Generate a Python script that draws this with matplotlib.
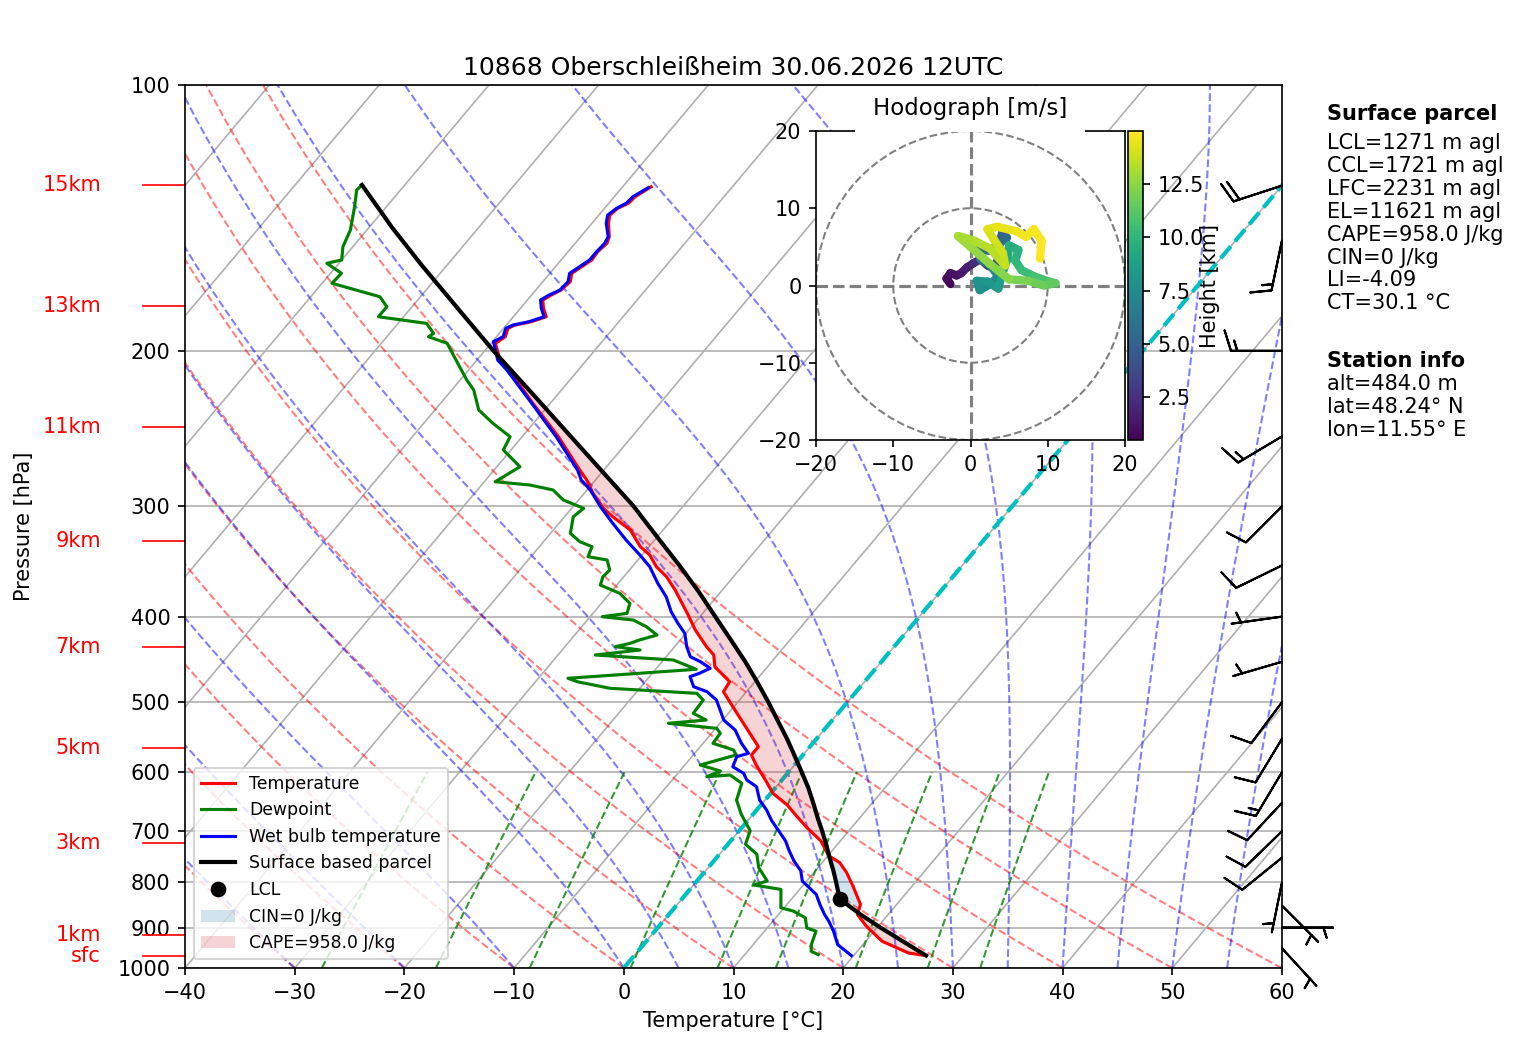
import numpy as np
import matplotlib
matplotlib.use("Agg")
import matplotlib.pyplot as plt
from matplotlib import transforms
from matplotlib.collections import LineCollection
from matplotlib.colors import Normalize
from matplotlib.patches import Circle, Rectangle

SKEW = 67.7  # degC shift of the isotherms per decade of pressure

# ---- sounding (hPa, degC) ----
temp_p = [968.2, 961.6, 932.7, 896.7, 869.8, 847.2, 807.5, 779.8, 759.7, 746.5, 717.7, 693.2,
          674.0, 653.7, 634.1, 612.5, 589.0, 573.8, 561.5, 542.3, 523.8, 505.9, 486.5, 474.0,
          455.8, 442.1, 432.6, 414.2, 398.3, 373.2, 360.5, 351.2, 340.6, 333.3, 319.1, 308.3,
          301.6, 290.0, 280.1, 272.9, 250.2, 229.3, 210.3, 204.9, 196.1, 192.8, 188.6, 187.0,
          185.4, 183.0, 179.0, 175.2, 172.9, 170.7, 167.0, 163.4, 160.6, 157.8, 154.5, 151.1,
          148.5, 143.4, 140.4, 137.9, 136.1, 133.8, 130.4]
temp_t = [26.6, 24.8, 21.5, 18.9, 17.2, 16.7, 14.6, 13.0, 11.6, 10.1, 8.2, 5.9,
          4.2, 2.4, 0.2, -1.5, -3.5, -4.7, -4.7, -6.5, -8.3, -10.1, -12.1, -12.3,
          -14.8, -15.8, -17.1, -19.4, -21.2, -24.3, -26.1, -27.8, -29.3, -30.8, -33.0, -35.6,
          -37.1, -39.2, -40.8, -42.2, -46.7, -51.6, -56.3, -57.9, -59.6, -59.2, -59.6, -59.2,
          -58.0, -57.0, -57.9, -58.6, -58.2, -57.7, -57.5, -58.0, -57.6, -57.2, -57.3, -57.1,
          -57.4, -58.5, -59.0, -58.8, -58.2, -58.1, -57.4]

dewp_p = [965.7, 957.4, 940.8, 908.5, 900.7, 877.3, 862.1, 854.7, 814.7, 805.4, 797.0, 769.6,
          743.2, 724.1, 699.2, 669.4, 645.3, 617.8, 604.6, 607.2, 598.3, 589.0, 573.8, 566.4,
          556.6, 542.3, 535.3, 528.3, 523.8, 514.7, 497.2, 488.6, 482.2, 474.0, 469.8, 458.9,
          447.9, 442.1, 436.4, 432.6, 428.8, 425.0, 419.7, 410.7, 403.6, 400.1, 396.6, 386.4,
          376.4, 368.4, 360.5, 354.2, 345.1, 342.1, 333.3, 329.0, 321.9, 308.3, 301.6, 295.1,
          287.5, 283.8, 281.4, 270.6, 259.0, 250.2, 241.6, 233.4, 221.5, 215.8, 204.9, 196.1,
          192.8, 191.1, 186.2, 183.0, 178.3, 173.7, 169.9, 167.7, 163.4, 159.2, 157.8, 152.5,
          146.0, 137.4, 131.5, 129.8]
dewp_t = [16.7, 15.8, 15.3, 14.7, 13.6, 12.7, 11.1, 9.7, 8.3, 5.5, 6.4, 4.6,
          3.4, 1.6, 1.0, -1.1, -2.6, -3.4, -5.1, -7.1, -6.3, -8.6, -6.1, -6.7,
          -9.1, -9.2, -9.9, -14.7, -11.5, -13.2, -13.3, -14.4, -22.7, -26.2, -27.3, -16.3,
          -19.1, -26.6, -22.9, -25.4, -24.3, -23.7, -22.5, -24.1, -25.8, -28.9, -26.9, -27.4,
          -29.1, -31.5, -31.9, -31.8, -32.8, -34.8, -35.2, -36.7, -38.2, -39.2, -38.9, -41.4,
          -43.1, -45.6, -49.0, -47.9, -50.7, -51.1, -53.7, -56.0, -58.0, -59.4, -61.9, -64.0,
          -66.2, -66.0, -67.4, -72.3, -72.3, -73.7, -77.1, -79.1, -79.0, -81.1, -80.0, -80.9,
          -81.5, -82.9, -84.0, -83.9]

wetb_p = [968.2, 940.8, 908.5, 885.1, 869.8, 847.2, 825.4, 797.0, 776.5, 756.3, 736.8, 717.9,
          699.2, 681.2, 662.3, 645.3, 623.3, 612.5, 601.9, 591.6, 576.4, 571.3, 556.6, 537.6,
          523.8, 510.3, 497.2, 486.5, 480.2, 467.8, 463.7, 457.7, 449.9, 444.1, 432.6, 417.8,
          407.0, 394.9, 379.8, 366.7, 351.2, 340.6, 327.6, 313.6, 300.3, 287.5, 280.1, 272.9,
          250.2, 229.3, 210.3, 204.9, 195.3, 192.8, 188.6, 187.0, 185.4, 183.0, 179.0, 175.2,
          172.9, 170.7, 167.0, 163.4, 160.6, 157.8, 154.5, 151.1, 148.5, 143.4, 140.4, 137.9,
          136.1, 133.8, 130.7]
wetb_t = [19.8, 17.7, 16.3, 15.1, 14.2, 13.0, 11.9, 9.6, 8.7, 7.3, 6.1, 5.0,
          3.6, 2.2, 0.9, -0.5, -1.8, -3.2, -4.0, -5.5, -5.9, -5.1, -6.5, -8.1,
          -9.9, -11.0, -12.1, -13.6, -15.2, -16.3, -15.7, -15.1, -16.5, -17.8, -18.9, -20.1,
          -21.5, -23.0, -24.6, -26.4, -28.4, -30.2, -32.6, -35.1, -37.5, -39.7, -41.3, -42.4,
          -46.9, -51.7, -56.5, -58.1, -59.9, -59.4, -59.8, -59.4, -58.2, -57.2, -58.1, -58.8,
          -58.4, -57.8, -57.7, -58.2, -57.8, -57.4, -57.4, -57.3, -57.5, -58.7, -59.2, -58.9,
          -58.4, -58.3, -57.6]

parcel_p = [968.2, 935, 900, 870, 835.6, 800, 775, 750, 725, 700, 675, 650, 625, 600, 575,
            550, 525, 500, 475, 450, 425, 400, 375, 350, 325, 300, 275, 250, 225, 200,
            180, 160, 145, 129.8]
parcel_t = [26.6, 23.6, 20.3, 17.5, 14.4, 12.8, 11.6, 10.3, 9.0, 7.6, 6.1, 4.6, 3.0, 1.2, -0.7,
            -2.7, -4.9, -7.2, -9.7, -12.4, -15.4, -18.6, -22.0, -25.8, -30.0, -34.5, -39.8,
            -45.6, -52.0, -59.2, -65.4, -72.3, -77.9, -83.9]
lcl_p, lcl_t = 835.6, 14.4
lfc_p = 745.0

# wind barbs (knots)
barb_p = [950, 900, 850, 800, 750, 700, 650, 600, 550, 500, 450, 400, 350, 300, 250, 200, 150, 130]
barb_u = [-3.4, -5.0, -3.5, 1.0, 7.8, 7.2, 6.8, 7.7, 5.2, 6.0, 4.8, 5.0, 9.0, 7.1, 12.9, 15.0, 3.1, 19.0]
barb_v = [3.7, 0.0, 3.5, 4.9, 6.3, 7.0, 7.3, 12.9, 8.6, 8.0, 1.4, 0.7, 4.4, 7.1, 7.7, 0.0, 14.7, 6.2]

# hodograph (km MSL, m/s)
hodo_h = [0.48, 0.7, 0.9, 1.1, 1.3, 1.6, 2.0, 2.4, 2.8, 3.2, 3.6, 4.0, 4.4, 4.8, 5.2, 5.6,
          6.0, 6.3, 6.6, 7.0, 7.3, 7.6, 7.9, 8.1, 8.4, 8.7, 9.0, 9.3, 9.6, 9.9, 10.2, 10.6,
          11.0, 11.3, 11.6, 11.9, 12.2, 12.5, 12.8, 13.0, 13.2, 13.4, 13.6, 13.8, 14.0, 14.2,
          14.4, 14.6, 14.7, 14.8, 14.9, 15.0]
hodo_u = [-2.6, -3.1, -2.6, -1.8, -1.2, -0.5, 0.4, 1.3, 2.2, 3.0, 3.5, 3.7, 3.8, 4.1, 4.7, 2.5,
          1.0, 1.3, 2.6, 3.6, 2.6, 1.2, 0.8, 2.2, 3.6, 4.0, 4.8, 5.0, 6.2, 5.8, 6.6, 8.2,
          10.2, 11.0, 9.5, 7.5, 5.0, 2.5, 0.0, -1.6, 0.5, 2.5, 4.5, 4.2, 3.0, 2.2,
          3.5, 6.0, 7.2, 8.2, 9.2, 9.0]
hodo_v = [0.2, 0.9, 1.6, 1.3, 1.6, 2.3, 2.9, 3.4, 2.6, 2.2, 3.2, 4.6, 5.8, 6.8, 6.2, 4.5,
          4.6, 3.4, 2.6, 1.2, 0.2, -0.6, 0.6, 0.5, -0.4, 1.2, 3.5, 5.2, 4.6, 3.2, 2.0, 1.2,
          0.5, 0.3, 0.0, 0.6, 0.8, 2.8, 5.0, 6.4, 5.8, 4.8, 2.6, 4.2, 6.0, 7.3,
          7.6, 7.0, 6.3, 7.3, 5.8, 3.5]

hgt_labels = ['15km', '13km', '11km', '9km', '7km', '5km', '3km', '1km', 'sfc']
hgt_label_p = [129.8, 177.9, 244.0, 328.3, 433.2, 563.2, 720.9, 916.4, 969.0]

p_ticks = [100, 200, 300, 400, 500, 600, 700, 800, 900, 1000]
t_ticks = [-40, -30, -20, -10, 0, 10, 20, 30, 40, 50, 60]
mix_ratios = [0.0004, 0.001, 0.002, 0.004, 0.007, 0.01, 0.016, 0.024, 0.032]

title = '10868 Oberschleißheim 30.06.2026 12UTC'
parcel_info = ['LCL=1271 m agl', 'CCL=1721 m agl', 'LFC=2231 m agl', 'EL=11621 m agl',
               'CAPE=958.0 J/kg', 'CIN=0 J/kg', 'LI=-4.09', 'CT=30.1 °C']
station_info = ['alt=484.0 m', 'lat=48.24° N', 'lon=11.55° E']


def skx(t, p):
    return np.asarray(t, float) + SKEW * np.log10(1000.0 / np.asarray(p, float))


def moist_rate(T, p):
    es = 6.112 * np.exp(17.67 * (T - 273.15) / (T - 29.65))
    rs = 0.622 * es / (p - es)
    num = 287.04 * T + 2.501e6 * rs
    den = 1005.7 + (2.501e6 ** 2) * rs * 0.622 / (287.04 * T ** 2)
    return num / den / p


def moist_adiabats(t0, p):
    T = np.asarray(t0, float) + 273.15
    out = [T.copy()]
    for i in range(len(p) - 1):
        dp = p[i + 1] - p[i]
        k1 = moist_rate(T, p[i])
        k2 = moist_rate(T + 0.5 * dp * k1, p[i] + 0.5 * dp)
        k3 = moist_rate(T + 0.5 * dp * k2, p[i] + 0.5 * dp)
        k4 = moist_rate(T + dp * k3, p[i + 1])
        T = T + dp * (k1 + 2 * k2 + 2 * k3 + k4) / 6.0
        out.append(T.copy())
    return np.array(out) - 273.15


W, H = 1517, 1054
fig = plt.figure(figsize=(W / 150, H / 150), dpi=150)
ax = fig.add_axes([185 / W, 86 / H, 1097 / W, 883 / H])
ax.set_yscale('log')
ax.set_ylim(1000, 100)
ax.set_xlim(-40, 60)
ax.set_yticks(p_ticks)
ax.set_yticklabels([str(p) for p in p_ticks])
ax.yaxis.set_minor_locator(matplotlib.ticker.NullLocator())
ax.set_xticks(t_ticks)

# background: isobars, isotherms, adiabats, mixing lines
for p in p_ticks:
    ax.axhline(p, color='#b0b0b0', lw=0.8, zorder=1)
for t0 in range(-120, 61, 10):
    ax.plot(skx([t0, t0], [1000, 100]), [1000, 100], color='#b0b0b0', lw=0.8, zorder=1)

p_bg = np.linspace(1000, 100, 91)
for t0 in range(-40, 61, 10):
    tt = (t0 + 273.15) * (p_bg / 1000.0) ** 0.2857 - 273.15
    ax.plot(skx(tt, p_bg), p_bg, color='r', ls='--', lw=1, alpha=0.5, zorder=1)

t0_moist = np.concatenate((np.arange(-40, 0, 10), np.arange(0, 61, 5)))
tm = moist_adiabats(t0_moist, p_bg)
for j in range(tm.shape[1]):
    ax.plot(skx(tm[:, j], p_bg), p_bg, color='b', ls='--', lw=1, alpha=0.5, zorder=1)

p_mix = np.linspace(1000, 600, 30)
for w in mix_ratios:
    e = p_mix * w / (0.622 + w)
    le = np.log(e / 6.112)
    td = 243.5 * le / (17.67 - le)
    ax.plot(skx(td, p_mix), p_mix, color='g', ls='--', lw=1, alpha=0.8, zorder=1)

ax.plot(skx([0, 0], [1000, 100]), [1000, 100], color='c', ls='--', lw=2, zorder=1.5)

# CAPE / CIN shading
tp = np.array(temp_p)
tt = np.array(temp_t)
par_on_t = np.interp(np.log(tp[::-1]), np.log(np.array(parcel_p)[::-1]),
                     np.array(parcel_t)[::-1])[::-1]
cape = ax.fill_betweenx(tp, skx(tt, tp), skx(par_on_t, tp), where=par_on_t > tt,
                        interpolate=True, facecolor='tab:red', alpha=0.2, lw=0, zorder=2)
cin = ax.fill_betweenx(tp, skx(tt, tp), skx(par_on_t, tp),
                       where=(par_on_t < tt) & (tp > lfc_p),
                       interpolate=True, facecolor='tab:blue', alpha=0.2, lw=0, zorder=2)

l_t, = ax.plot(skx(temp_t, temp_p), temp_p, color='r', lw=1.5, zorder=4)
l_d, = ax.plot(skx(dewp_t, dewp_p), dewp_p, color='g', lw=1.5, zorder=4)
l_w, = ax.plot(skx(wetb_t, wetb_p), wetb_p, color='b', lw=1.5, zorder=4)
l_p, = ax.plot(skx(parcel_t, parcel_p), parcel_p, color='k', lw=2, zorder=5)
l_l, = ax.plot(skx(lcl_t, lcl_p), lcl_p, 'ko', ms=6.5, ls='none', zorder=6)

ax.legend([l_t, l_d, l_w, l_p, l_l, cin, cape],
          ['Temperature', 'Dewpoint', 'Wet bulb temperature', 'Surface based parcel', 'LCL',
           'CIN=0 J/kg', 'CAPE=958.0 J/kg'],
          loc='lower left', fontsize=8.3)

# wind barbs on the right edge
trans = transforms.blended_transform_factory(ax.transAxes, ax.transData)
ax.barbs(np.ones(len(barb_p)), barb_p, barb_u, barb_v, transform=trans,
         clip_on=False, length=7, zorder=7)

# height labels on the left
for name, p in zip(hgt_labels, hgt_label_p):
    ax.plot([-0.0383, 0], [p, p], color='r', lw=0.8, transform=trans, clip_on=False)
    ax.text(-0.0766, p, name, color='r', ha='right', va='center', transform=trans,
            fontsize=10)

ax.set_title(title, fontsize=12, pad=5)
ax.set_xlabel('Temperature [°C]')
ax.set_ylabel('Pressure [hPa]')
ax.yaxis.set_label_coords(-0.1376, 0.5)

# hodograph inset
axh = fig.add_axes([816 / W, 614 / H, 309 / W, 309 / H])
axh.set_xlim(-20, 20)
axh.set_ylim(-20, 20)
axh.set_xticks([-20, -10, 0, 10, 20])
axh.set_yticks([-20, -10, 0, 10, 20])
for r in (10, 20):
    axh.add_patch(Circle((0, 0), r, fill=False, color='grey', ls='--', lw=1))
axh.axhline(0, color='grey', ls='--', lw=1.5)
axh.axvline(0, color='grey', ls='--', lw=1.5)
pts = np.column_stack([hodo_u, hodo_v])
segs = np.stack([pts[:-1], pts[1:]], axis=1)
hh = np.array(hodo_h)
lc = LineCollection(segs, cmap='viridis', norm=Normalize(hh.min(), hh.max()),
                    linewidths=4, capstyle='round')
lc.set_array((hh[:-1] + hh[1:]) / 2)
axh.add_collection(lc)
# white backing behind the hodograph title (hides the grid and part of the top spine)
axh.add_patch(Rectangle((855 / W, 1 - 132 / H), 230 / W, 45.5 / H, transform=fig.transFigure,
                        facecolor='white', edgecolor='none', clip_on=False, zorder=2.6))
axh.set_title('Hodograph [m/s]', fontsize=11, pad=7.5)

cax = fig.add_axes([1128 / W, 614 / H, 15 / W, 309 / H])
cb = fig.colorbar(lc, cax=cax)
cb.set_ticks([2.5, 5.0, 7.5, 10.0, 12.5])
cb.set_label('Height [km]', labelpad=-2)

# info text on the right
tx = 1327 / W
fig.text(tx, 1 - 104.5 / H, 'Surface parcel', fontweight='bold', va='top', fontsize=10)
fig.text(tx, 1 - 132.7 / H, '\n'.join(parcel_info), va='top', fontsize=10, linespacing=1.185)
fig.text(tx, 1 - 351 / H, 'Station info', fontweight='bold', va='top', fontsize=10)
fig.text(tx, 1 - 374.5 / H, '\n'.join(station_info), va='top', fontsize=10, linespacing=1.185)

fig.savefig('out.png', dpi=150)
